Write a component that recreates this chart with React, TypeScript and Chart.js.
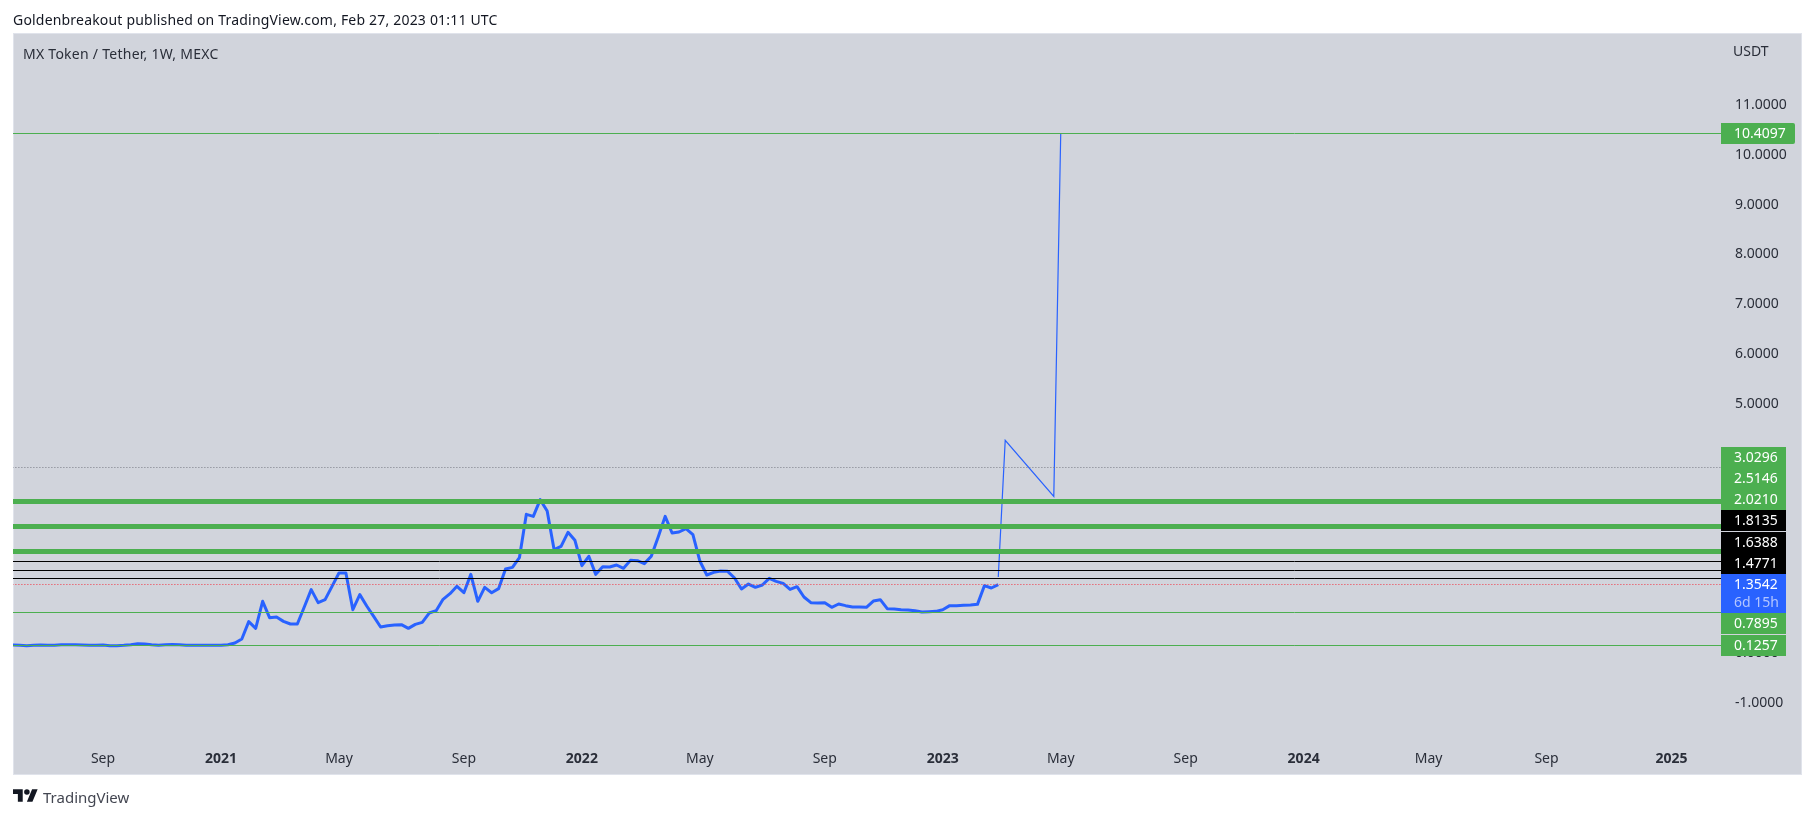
import React, { useEffect, useRef } from "react";
import { Chart, registerables } from "chart.js";

Chart.register(...registerables);

const FONT = "'Noto Sans', sans-serif";
const TEXT = "#2a2e39";
const PANE = "#d1d4dc";
const GREEN = "#4caf50";
const BLUE = "#2962ff";

// week numbers count from the first bar of 2021
const firstWeek = -30;
const closes = [
  0.144, 0.137, 0.13, 0.137, 0.144, 0.137, 0.137, 0.15, 0.15, 0.147, 0.144, 0.14, 0.137, 0.144, 0.13, 0.13,
  0.137, 0.15, 0.17, 0.165, 0.15, 0.14, 0.15, 0.155, 0.147, 0.14, 0.137, 0.137, 0.137, 0.137,
  0.137, 0.15, 0.183, 0.264, 0.612, 0.478, 1.02, 0.692, 0.705, 0.618, 0.565, 0.565, 0.906, 1.254, 0.993, 1.053,
  1.321, 1.588, 1.588, 0.852, 1.154, 0.926, 0.719, 0.505, 0.531, 0.545, 0.551, 0.478, 0.558, 0.598, 0.785, 0.832,
  1.06, 1.173, 1.321, 1.193, 1.561, 1.02, 1.3, 1.193, 1.274, 1.668, 1.702, 1.896, 2.766, 2.725, 3.06, 2.833,
  2.056, 2.123, 2.404, 2.244, 1.735, 1.923, 1.561, 1.715, 1.709, 1.749, 1.682, 1.842, 1.836, 1.776, 1.923, 2.311,
  2.725, 2.391, 2.411, 2.478, 2.358, 1.829, 1.548, 1.602, 1.628, 1.622, 1.488, 1.267, 1.367, 1.3, 1.347, 1.481,
  1.421, 1.381, 1.26, 1.314, 1.107, 0.993, 0.986, 0.993, 0.899, 0.966, 0.933, 0.906, 0.906, 0.899, 1.026, 1.053,
  0.872, 0.866, 0.852, 0.846, 0.832, 0.806, 0.812, 0.819, 0.852, 0.933, 0.933, 0.939, 0.946, 0.959, 1.334, 1.287,
  1.3542,
];

// hand drawn projection on top of the price
const projectionWeeks = [112, 113, 120, 121];
const projectionValues = [1.508, 4.25, 3.127, 10.4097];

const tickWeeks = [-17, 0, 17, 35, 52, 69, 87, 104, 121, 139, 156, 174, 191, 209];
const tickLabels = ["Sep", "2021", "May", "Sep", "2022", "May", "Sep", "2023", "May", "Sep", "2024", "May", "Sep", "2025"];
const priceTicks = [11, 10, 9, 8, 7, 6, 5, 4, 3, 2, 1, 0, -1];

const thickLevels = [3.0296, 2.5146, 2.021];
const blackLevels = [1.8135, 1.6388, 1.4771];
const thinGreenLevels = [10.4097, 0.7895, 0.1257];
const dottedLevel = 3.703;
const lastPrice = 1.3542;

const tagsAbove = [1.4771, 1.6388, 1.8135, 2.021, 2.5146, 3.0296];
const tagsBelow = [0.7895, 0.1257];

const fmt = (v: number) => v.toFixed(4);

const panePlugin = {
  id: "pane",
  beforeDraw(chart: any) {
    const { ctx } = chart;
    ctx.save();
    ctx.fillStyle = PANE;
    ctx.fillRect(13, 33, 1789, 742);
    ctx.strokeStyle = "#e0e3eb";
    ctx.lineWidth = 1;
    ctx.strokeRect(13.5, 33.5, 1788, 741);
    ctx.restore();
  },
};

// level lines are 1px or 5px, keep them on whole pixels so they stay sharp
const snapPlugin = {
  id: "snap",
  afterDatasetsUpdate(chart: any) {
    chart.data.datasets.forEach((ds: any, i: number) => {
      if (!ds.isLevel) return;
      chart.getDatasetMeta(i).data.forEach((pt: any) => {
        pt.y = Math.floor(pt.y) + 0.5;
      });
    });
  },
};

// price tags on the axis, pushed apart the way TradingView stacks them
const tagsPlugin = {
  id: "tags",
  afterDraw(chart: any) {
    const { ctx, scales } = chart;
    const y = scales.y;
    const left = 1721;
    const tagH = 21;

    const drawTag = (value: number, top: number, color: string) => {
      ctx.fillStyle = color;
      ctx.fillRect(left, top, 65, tagH);
      ctx.fillStyle = "#fff";
      ctx.fillText(fmt(value), left + 13, top + tagH / 2 + 0.5);
    };

    ctx.save();
    ctx.font = `14px ${FONT}`;
    ctx.textBaseline = "middle";
    ctx.textAlign = "left";

    // top one is wider and rounded, it sits clear of the rest
    const topY = y.getPixelForValue(10.4097);
    ctx.fillStyle = GREEN;
    ctx.beginPath();
    ctx.roundRect(left, Math.floor(topY) - 10, 74, tagH, [0, 2, 2, 0]);
    ctx.fill();
    ctx.fillStyle = "#fff";
    ctx.fillText(fmt(10.4097), left + 13, Math.floor(topY) + 1);

    // last price, two lines
    const priceTop = 574;
    ctx.fillStyle = BLUE;
    ctx.fillRect(left, priceTop, 65, 39);
    ctx.fillStyle = "#fff";
    ctx.fillText(fmt(lastPrice), left + 13, priceTop + 11);
    ctx.fillStyle = "#b3c5ff";
    ctx.fillText("6d 15h", left + 13, priceTop + 29);

    let top = priceTop;
    tagsAbove.forEach((v) => {
      const wanted = Math.floor(y.getPixelForValue(v)) - 10;
      top = Math.min(wanted, top - tagH);
      if (v === 1.8135) top -= 1;
      drawTag(v, top, blackLevels.includes(v) ? "#000" : GREEN);
    });

    let bottom = priceTop + 39;
    tagsBelow.forEach((v) => {
      const wanted = Math.floor(y.getPixelForValue(v)) - 10;
      const t = Math.max(wanted, bottom);
      drawTag(v, t, GREEN);
      bottom = t + tagH;
    });
    ctx.restore();
  },
};

const levelLine = (value: number, color: string, width: number, dash: number[] = []) => ({
  isLevel: true,
  data: [
    { x: -40, y: value },
    { x: 230, y: value },
  ],
  borderColor: color,
  borderWidth: width,
  borderDash: dash,
  pointRadius: 0,
});

const App: React.FC = () => {
  const chartRef = useRef<HTMLCanvasElement | null>(null);

  useEffect(() => {
    document.body.style.margin = "0";
    if (!chartRef.current) return;
    const chartInstance = new Chart(chartRef.current, {
      type: "line",
      plugins: [panePlugin, snapPlugin, tagsPlugin],
      data: {
        datasets: [
          ...thickLevels.map((v) => levelLine(v, GREEN, 5)),
          ...blackLevels.map((v) => levelLine(v, "#000", 1)),
          ...thinGreenLevels.map((v) => levelLine(v, GREEN, 1)),
          levelLine(0.1257, "#787b86", 1, [1, 2]),
          levelLine(dottedLevel, "#787b86", 1, [1, 2]),
          levelLine(lastPrice, "#f23645", 1, [1, 2]),
          {
            data: closes.map((y, i) => ({ x: firstWeek + i, y })),
            borderColor: BLUE,
            borderWidth: 3,
            borderJoinStyle: "round",
            pointRadius: 0,
            tension: 0,
          },
          {
            data: projectionWeeks.map((x, i) => ({ x, y: projectionValues[i] })),
            borderColor: BLUE,
            borderWidth: 1.2,
            pointRadius: 0,
            tension: 0,
          },
        ] as any,
      },
      options: {
        animation: false,
        responsive: false,
        devicePixelRatio: 1,
        layout: { padding: { left: 13, right: 13, top: 34, bottom: 44 } },
        plugins: { legend: { display: false }, tooltip: { enabled: false } },
        scales: {
          x: {
            type: "linear",
            min: -29.97,
            max: 216.14,
            grid: { display: false },
            border: { display: false },
            afterBuildTicks: (scale: any) => {
              scale.ticks = tickWeeks.map((value) => ({ value }));
            },
            afterFit: (scale: any) => {
              scale.height = 34;
            },
            ticks: {
              autoSkip: false,
              maxRotation: 0,
              padding: 3,
              color: TEXT,
              font: (c: any) => ({
                family: FONT,
                size: 14,
                weight: /^\d/.test(tickLabels[tickWeeks.indexOf(c.tick?.value)] || "") ? "bold" : "normal",
              }),
              callback: (v: any) => tickLabels[tickWeeks.indexOf(v)] ?? "",
            },
          },
          y: {
            position: "right",
            min: -1.763,
            max: 12.405,
            grid: { display: false },
            border: { display: false },
            afterBuildTicks: (scale: any) => {
              scale.ticks = priceTicks.map((value) => ({ value }));
            },
            afterFit: (scale: any) => {
              scale.width = 80;
            },
            ticks: {
              autoSkip: false,
              padding: 6,
              labelOffset: 1,
              crossAlign: "near",
              color: TEXT,
              font: { family: FONT, size: 14 },
              callback: (v: any) => fmt(Number(v)),
            },
          },
        },
      } as any,
    });

    return () => {
      chartInstance.destroy();
    };
  }, []);

  const label: React.CSSProperties = { position: "absolute", fontFamily: FONT, fontSize: 14, lineHeight: "18px", color: TEXT, whiteSpace: "nowrap" };

  return (
    <div style={{ position: "relative", width: 1814, height: 818, background: "#fff", overflow: "hidden" }}>
      <canvas ref={chartRef} width={1814} height={818} style={{ display: "block" }} />
      <div style={{ ...label, left: 13, top: 11, color: "#131722", letterSpacing: 0.19 }}>
        Goldenbreakout published on TradingView.com, Feb 27, 2023 01:11 UTC
      </div>
      <div style={{ ...label, left: 23, top: 45, letterSpacing: 0.26 }}>MX Token / Tether, 1W, MEXC</div>
      <div style={{ ...label, left: 1733, top: 42 }}>USDT</div>
      <svg style={{ position: "absolute", left: 13, top: 789 }} width="25" height="13" viewBox="0 4 36 18">
        <path d="M14 22H7V11H0V4h14v18zM28 22h-8l7.5-18h8L28 22z" fill="#131722" />
        <circle cx="20" cy="8" r="4" fill="#131722" />
      </svg>
      <div style={{ ...label, left: 43, top: 787, fontSize: 15, lineHeight: "20px", color: "#434651" }}>TradingView</div>
    </div>
  );
};

export default App;
